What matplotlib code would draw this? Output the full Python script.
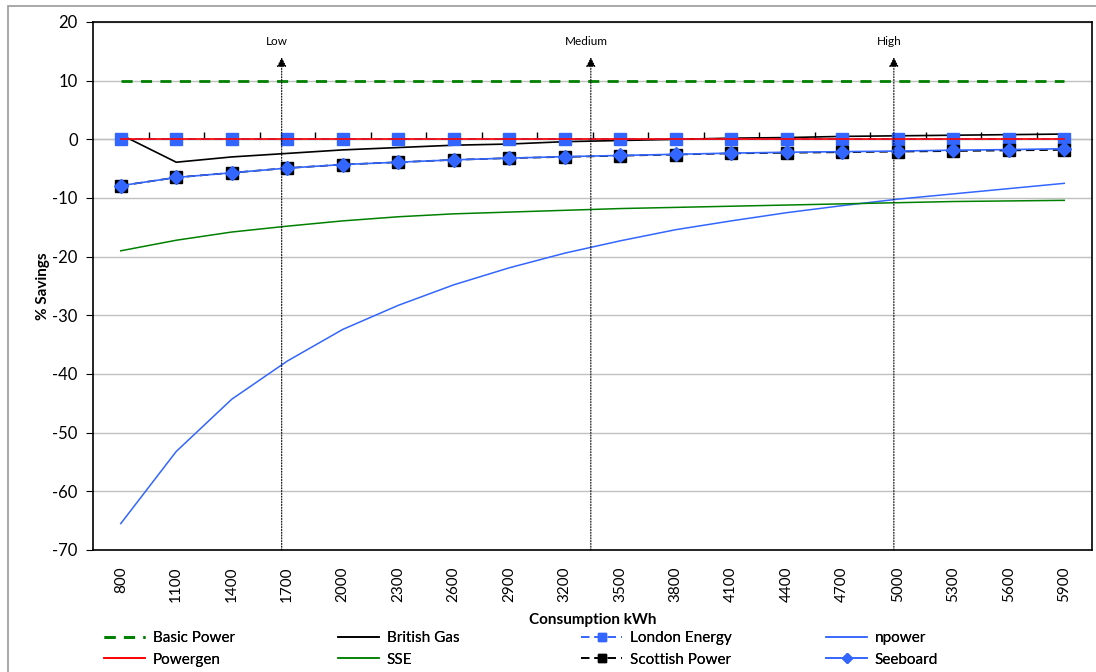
import numpy as np
import matplotlib
matplotlib.use("Agg")
from matplotlib import pyplot as plt
from matplotlib.patches import Rectangle

plt.rcParams["font.family"] = ["Lato", "DejaVu Sans"]
plt.rcParams["axes.unicode_minus"] = False

consumption = [800, 1100, 1400, 1700, 2000, 2300, 2600, 2900, 3200,
               3500, 3800, 4100, 4400, 4700, 5000, 5300, 5600, 5900]

basic_power = [10] * 18
british_gas = [0.8, -3.9, -3.0, -2.4, -1.8, -1.4, -1.0, -0.8, -0.4,
               -0.2, 0.0, 0.2, 0.3, 0.5, 0.6, 0.7, 0.8, 0.9]
london_energy = [0] * 18
npower = [-65.5, -53.2, -44.3, -37.8, -32.4, -28.3, -24.8, -21.9, -19.4,
          -17.3, -15.4, -13.9, -12.5, -11.3, -10.2, -9.3, -8.4, -7.5]
powergen = [0] * 18
sse = [-19.0, -17.2, -15.8, -14.8, -13.9, -13.2, -12.7, -12.4, -12.1,
       -11.8, -11.6, -11.4, -11.2, -11.0, -10.8, -10.6, -10.5, -10.4]
scottish_power = [-7.9, -6.5, -5.7, -4.9, -4.3, -3.9, -3.5, -3.2, -3.0,
                  -2.8, -2.6, -2.4, -2.3, -2.2, -2.1, -2.0, -1.9, -1.8]
seeboard = [-7.9, -6.5, -5.7, -4.9, -4.3, -3.9, -3.5, -3.2, -2.95,
            -2.75, -2.55, -2.35, -2.2, -2.1, -2.0, -1.85, -1.75, -1.6]

# usage bands: (label, position in category units)
bands = [("Low", 2.9), ("Medium", 8.47), ("High", 13.93)]

BLUE = "#3366FF"
GREEN = "#008000"

fig = plt.figure(figsize=(10.96, 6.72), dpi=100)
ax = fig.add_axes([93 / 1096, 1 - 550 / 672, 999 / 1096, 528 / 672])

x = np.arange(len(consumption))

lines = {}
lines["Basic Power"], = ax.plot(x, basic_power, color=GREEN, lw=2, ls=(0, (4, 3)))
lines["British Gas"], = ax.plot(x, british_gas, color="black", lw=1.2)
lines["London Energy"], = ax.plot(x, london_energy, color=BLUE, lw=1.2, ls=(0, (5, 3)),
                                  marker="s", ms=8, mfc=BLUE, mec=BLUE)
lines["npower"], = ax.plot(x, npower, color=BLUE, lw=1.1)
lines["Powergen"], = ax.plot(x, powergen, color="red", lw=1.2)
lines["SSE"], = ax.plot(x, sse, color=GREEN, lw=1.1)
lines["Scottish Power"], = ax.plot(x, scottish_power, color="black", lw=1.2, ls=(0, (5, 3)),
                                   marker="s", ms=8, mfc="black", mec="black")
lines["Seeboard"], = ax.plot(x, seeboard, color=BLUE, lw=1.2,
                             marker="D", ms=7, mfc=BLUE, mec=BLUE)

ax.set_xlim(-0.5, len(consumption) - 0.5)
ax.set_ylim(-70, 20)
ax.set_yticks(np.arange(-70, 21, 10))
ax.yaxis.grid(True, color="#C0C0C0", lw=1)
ax.set_axisbelow(True)
ax.set_xticks(x)
ax.set_xticklabels([str(c) for c in consumption], rotation=90, fontsize=11)
ax.tick_params(axis="x", length=0, pad=12)
ax.tick_params(axis="y", direction="out", length=5, labelsize=12, pad=6)
for s in ax.spines.values():
    s.set_color("black")
    s.set_linewidth(1.2)

# category axis crossing at zero
zero_pos = (0 - (-70)) / 90
sec = ax.secondary_xaxis(zero_pos)
sec.set_xticks(np.arange(0.5, len(consumption) - 1, 1))
sec.set_xticklabels([])
sec.tick_params(direction="out", length=5, color="black", width=1)
sec.spines["bottom"].set_color("black")
sec.spines["bottom"].set_linewidth(1.2)

for label, pos in bands:
    ax.annotate("", xy=(pos, 14.0), xytext=(pos, -70),
                arrowprops=dict(arrowstyle="-|>", ls=(0, (1, 1.5)), lw=0.8,
                                color="black", mutation_scale=14, shrinkA=0, shrinkB=0))
    ax.text(pos - 0.08, 16.7, label, ha="center", va="center", fontsize=8.5)

ax.set_ylabel("% Savings", fontsize=11, fontweight="bold", labelpad=2)
ax.set_xlabel("Consumption kWh", fontsize=11, fontweight="bold", labelpad=8)

# legend: four columns, two rows, each column placed on its own
columns = [["Basic Power", "Powergen"], ["British Gas", "SSE"],
           ["London Energy", "Scottish Power"], ["npower", "Seeboard"]]
col_x = [104, 338, 581, 826]
for names, cx in zip(columns, col_x):
    leg = fig.legend([lines[k] for k in names], names, loc="upper left",
                     bbox_to_anchor=(cx / 1096, 1 - 631 / 672), frameon=False,
                     fontsize=11, handlelength=2.7, handletextpad=0.5,
                     labelspacing=0.5, borderaxespad=0, borderpad=0,
                     markerscale=0.75)
    fig.add_artist(leg)

fig.patches.append(Rectangle((8 / 1096, -0.05), 1.1, 1 - 6 / 672 + 0.05,
                             transform=fig.transFigure, fill=False,
                             edgecolor="#999999", lw=1.2))

fig.savefig("out.png", dpi=100)
